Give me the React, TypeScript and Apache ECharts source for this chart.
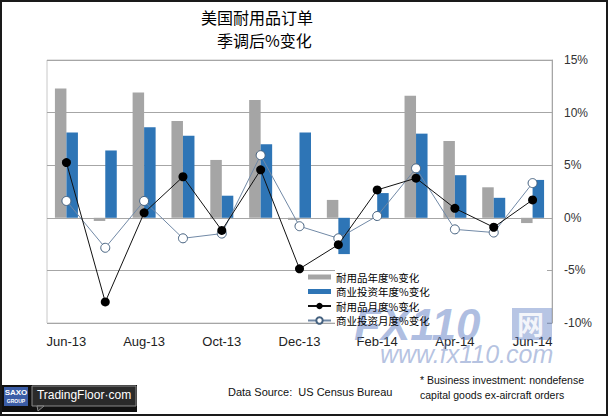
import React, { useEffect, useRef } from "react";
import * as echarts from "echarts";

const months = ["Jun-13", "Jul-13", "Aug-13", "Sep-13", "Oct-13", "Nov-13", "Dec-13", "Jan-14", "Feb-14", "Mar-14", "Apr-14", "May-14", "Jun-14"];
const durableYoY = [12.3, -0.3, 11.9, 9.2, 5.5, 11.2, -0.2, 1.7, 0, 11.6, 7.3, 2.9, -0.5];
const businessYoY = [8.1, 6.4, 8.6, 7.8, 2.1, 7.0, 8.1, -3.45, 2.35, 8.0, 4.05, 1.9, 3.6];
const durableMoM = [5.25, -8.0, 0.47, 3.9, -1.2, 4.56, -4.85, -2.55, 2.65, 3.77, 0.9, -0.9, 1.7];
const businessMoM = [1.6, -2.85, 1.6, -1.95, -1.5, 5.95, -0.8, -1.95, 0.17, 4.7, -1.1, -1.4, 3.3];

const seriesNames = ["耐用品年度%变化", "商业投资年度%变化", "耐用品月度%变化", "商业投资月度%变化"];
const yTicks = { min: -10, max: 15, interval: 5 };
const titleLines = ["美国耐用品订单", "季调后%变化"];
const sourceText = "Data Source:  US Census Bureau";
const footnoteLines = ["* Business investment: nondefense", "capital goods ex-aircraft orders"];

const CJK = "'Noto Sans CJK SC', sans-serif";
const LAT = "'Liberation Sans', Arial, sans-serif";

export default function App() {
  const ref = useRef<HTMLDivElement>(null);
  useEffect(() => {
    document.body.style.margin = "0";
    const chart = echarts.init(ref.current!, null, { renderer: "svg" });
    const barIcon = "path://M0,0h23v5h-23z";
    chart.setOption({
      animation: false,
      backgroundColor: "#ffffff",
      title: [
        { text: titleLines[0], left: 201, top: 9, padding: 0, textStyle: { fontSize: 16, fontWeight: "normal", color: "#000", fontFamily: CJK } },
        { text: titleLines[1], left: 217, top: 32, padding: 0, textStyle: { fontSize: 16, fontWeight: "normal", color: "#000", fontFamily: CJK } },
      ],
      grid: { left: 47, right: 56, top: 60, bottom: 93, show: true, borderColor: "#c8c8c8", borderWidth: 1 },
      legend: {
        orient: "vertical",
        left: 307,
        top: 271,
        itemWidth: 23,
        itemHeight: 8,
        itemGap: 2.5,
        padding: 0,
        z: 6,
        textStyle: { fontSize: 10.5, lineHeight: 12, color: "#000", fontFamily: CJK },
        data: [
          { name: seriesNames[0], icon: barIcon },
          { name: seriesNames[1], icon: barIcon },
          { name: seriesNames[2] },
          { name: seriesNames[3] },
        ],
      },
      xAxis: {
        type: "category",
        data: months,
        axisLine: { show: false },
        axisTick: { show: false },
        axisLabel: { interval: 1, margin: 12, fontSize: 13, color: "#222", fontFamily: LAT },
      },
      yAxis: {
        type: "value",
        position: "right",
        min: yTicks.min,
        max: yTicks.max,
        interval: yTicks.interval,
        axisLine: { show: true, lineStyle: { color: "#a6a6a6", width: 1 } },
        axisTick: { show: false },
        splitLine: { lineStyle: { color: "#a6a6a6", width: 1 } },
        axisLabel: { formatter: "{value}%", margin: 12, fontSize: 12, color: "#333", fontFamily: LAT },
      },
      series: [
        { name: seriesNames[0], type: "bar", data: durableYoY, barWidth: 11.5, barGap: "0%", itemStyle: { color: "#a5a5a5" }, z: 2 },
        { name: seriesNames[1], type: "bar", data: businessYoY, barWidth: 11.5, barGap: "0%", itemStyle: { color: "#2e75b6" }, z: 2 },
        {
          name: seriesNames[2], type: "line", data: durableMoM, symbol: "circle", symbolSize: 9,
          lineStyle: { color: "#111", width: 1 }, itemStyle: { color: "#000" }, z: 4,
        },
        {
          name: seriesNames[3], type: "line", data: businessMoM, symbol: "circle", symbolSize: 9,
          lineStyle: { color: "#7189a6", width: 1 }, itemStyle: { color: "#ffffff", borderColor: "#45617f", borderWidth: 1 }, z: 3,
        },
      ],
      graphic: [
        { type: "rect", z: 1, silent: true, shape: { x: 335, y: 264, width: 212, height: 62 }, style: { fill: "#ffffff" } },
        { type: "text", z: 5, silent: true, style: { x: 354, y: 302, text: "FX110", font: "italic bold 44px 'Liberation Sans', sans-serif", fill: "rgba(96,126,196,0.5)" } },
        { type: "rect", z: 5, silent: true, shape: { x: 512, y: 308, width: 40, height: 32 }, style: { fill: "rgba(96,126,196,0.45)" } },
        { type: "text", z: 5, silent: true, style: { x: 517, y: 310, text: "网", font: "bold 27px 'Noto Sans CJK SC'", fill: "rgba(255,255,255,0.85)" } },
        { type: "text", z: 5, silent: true, style: { x: 380, y: 341, text: "www.fx110.com", font: "italic 25px 'Liberation Sans', sans-serif", fill: "rgba(110,136,196,0.5)" } },
        { type: "text", style: { x: 228, y: 386, text: sourceText, font: `11px ${LAT}`, fill: "#111" } },
        { type: "text", style: { x: 420, y: 374, text: footnoteLines[0], font: `10.5px ${LAT}`, fill: "#111" } },
        { type: "text", style: { x: 420, y: 389, text: footnoteLines[1], font: `10.5px ${LAT}`, fill: "#111" } },
        { type: "rect", shape: { x: 2, y: 385, width: 135, height: 27 }, style: { fill: "#111" } },
        { type: "rect", shape: { x: 4, y: 387, width: 24, height: 19 }, style: { fill: "#3b5da6" } },
        { type: "text", style: { x: 16, y: 388, text: "SAXO", align: "center", font: "bold 8px 'Liberation Sans'", fill: "#fff" } },
        { type: "text", style: { x: 16, y: 398, text: "GROUP", align: "center", font: "bold 5px 'Liberation Sans'", fill: "#fff" } },
        { type: "rect", shape: { x: 32, y: 386, width: 104, height: 20 }, style: { fill: "#2a2a2a", stroke: "#8a8a8a", lineWidth: 1 } },
        { type: "polygon", shape: { points: [[37, 406], [44, 406], [38, 411]] }, style: { fill: "#2a2a2a", stroke: "#8a8a8a", lineWidth: 1 } },
        { type: "text", style: { x: 84, y: 389, text: "TradingFloor·com", align: "center", font: "12px 'Liberation Sans'", fill: "#fff" } },
        { type: "rect", silent: true, shape: { x: 1, y: 1, width: 606, height: 414 }, style: { fill: "none", stroke: "#1a1a1a", lineWidth: 2 } },
      ],
    });
    return () => chart.dispose();
  }, []);
  return <div ref={ref} style={{ width: 608, height: 416 }} />;
}
